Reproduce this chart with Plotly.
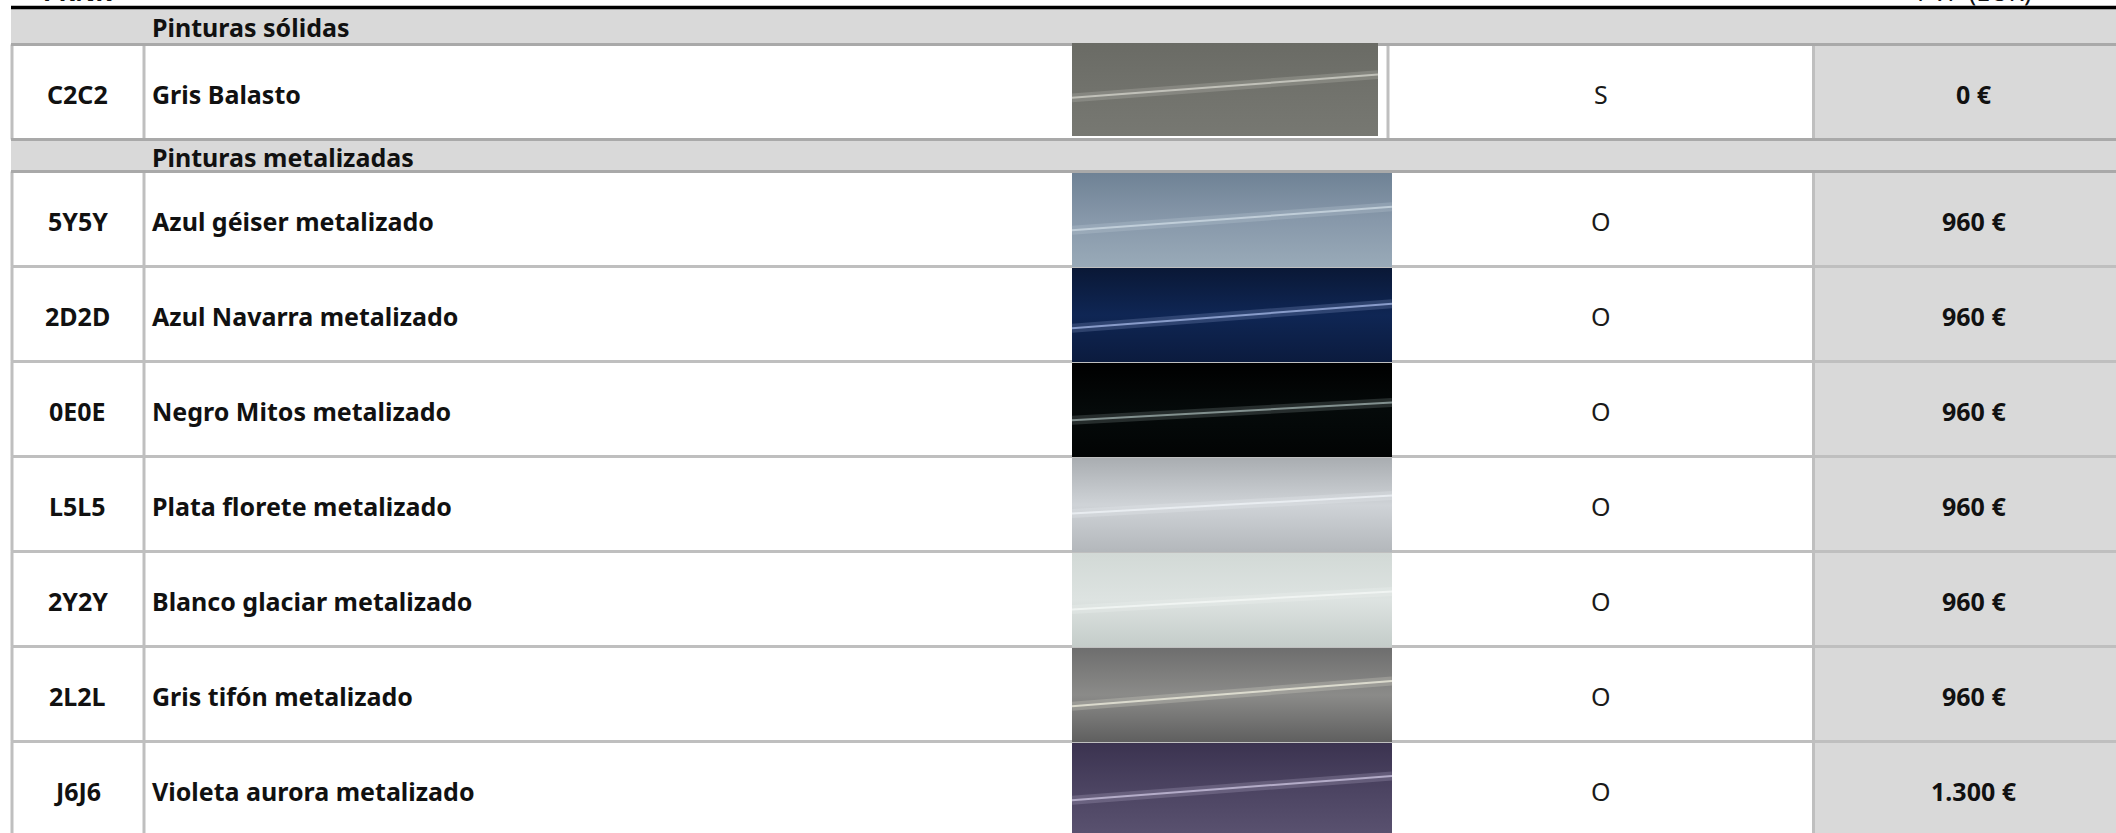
import plotly.graph_objects as go

# ---------------- data ----------------
sections = ["Pinturas sólidas", "Pinturas metalizadas"]
codes = ["C2C2", "5Y5Y", "2D2D", "0E0E", "L5L5", "2Y2Y", "2L2L", "J6J6"]
names = ["Gris Balasto", "Azul géiser metalizado", "Azul Navarra metalizado",
         "Negro Mitos metalizado", "Plata florete metalizado",
         "Blanco glaciar metalizado", "Gris tifón metalizado",
         "Violeta aurora metalizado"]
row_section = [0, 1, 1, 1, 1, 1, 1, 1]
availability = ["S", "O", "O", "O", "O", "O", "O", "O"]
prices_eur = [0, 960, 960, 960, 960, 960, 960, 1300]
header_left = "PRNR"
header_right = "PVP (EUR)"

# swatch colours (top, middle, bottom, highlight)
sw_top = ["#6a6b65", "#6f8295", "#0a1836", "#000000", "#a9adb1", "#d2d9d6", "#6e6e6e", "#3b3350"]
sw_mid = ["#71726c", "#8798aa", "#0f2654", "#050a0a", "#cfd3d7", "#dde3e1", "#8b8b89", "#4c4462"]
sw_bot = ["#777872", "#99aab8", "#0b1b3e", "#020404", "#b3b7bb", "#c4ccc9", "#5f5f5f", "#5a5270"]
sw_hi = ["#d0d0c8", "#cbd8e2", "#9fb2e0", "#9aaaa8", "#eef2f6", "#f4f8f6", "#ecebdc", "#c8c0dc"]
# highlight position (fraction of swatch height) at left / right edge
hi_left = [0.59, 0.61, 0.64, 0.61, 0.59, 0.60, 0.62, 0.61]
hi_right = [0.34, 0.36, 0.38, 0.42, 0.40, 0.41, 0.35, 0.35]

# ---------------- layout / style ----------------
W, H = 2116, 833
FONT = "Noto Sans"
FS = 25
X_LEFT, X_CODE, X_SW0, X_TYPE, X_PRICE, X_RIGHT = 11, 144, 1072, 1388, 1813.5, 2116
SW_RIGHT = [1378, 1392]           # per section
PRICE_CENTER = 1974
Y_TOP = 7.5
BAND_H = [37, 32]
ROW_H = 95
GRID = "#bfbfbf"
BAND_LINE = "#a9a9a9"
BAND_FILL = "#d9d9d9"

fig = go.Figure()
shapes = []
ann = []


def line(x0, y0, x1, y1, color, w):
    shapes.append(dict(type="line", x0=x0, y0=y0, x1=x1, y1=y1, xref="x", yref="y",
                       line=dict(color=color, width=w), layer="below"))


def rect(x0, y0, x1, y1, color):
    shapes.append(dict(type="rect", x0=x0, y0=y0, x1=x1, y1=y1, xref="x", yref="y",
                       fillcolor=color, line=dict(width=0), layer="below"))


def text(x, y, s, anchor="left", bold=True, color="#111111", yanchor="middle"):
    ann.append(dict(x=x, y=y, xref="x", yref="y", text=s, showarrow=False,
                    xanchor=anchor, yanchor=yanchor,
                    font=dict(family=FONT, size=FS, color=color,
                              weight=700 if bold else 400)))


def fmt_price(v):
    return f"{v:,}".replace(",", ".") + " €"


# compute row geometry
y = Y_TOP
band_pos = []
row_pos = []
for s in range(len(sections)):
    band_pos.append((y, y + BAND_H[s]))
    y += BAND_H[s]
    for i, sec in enumerate(row_section):
        if sec == s:
            row_pos.append((i, y, y + ROW_H))
            y += ROW_H
row_pos.sort()

# backgrounds
for s, (b0, b1) in enumerate(band_pos):
    rect(X_LEFT, b0, X_RIGHT, b1, BAND_FILL)
for i, r0, r1 in row_pos:
    rect(X_PRICE, r0, X_RIGHT, r1, BAND_FILL)

# grid lines
for i, r0, r1 in row_pos:
    for xv in (X_LEFT + 1, X_CODE, X_TYPE, X_PRICE):
        line(xv, r0, xv, r1, GRID, 3)
    line(X_LEFT, r1, X_RIGHT, r1, GRID, 3)
for s, (b0, b1) in enumerate(band_pos):
    line(X_LEFT, b1, X_RIGHT, b1, BAND_LINE, 3)
    if s > 0:
        line(X_LEFT, b0, X_RIGHT, b0, BAND_LINE, 3)
line(X_LEFT, Y_TOP, X_RIGHT, Y_TOP, "#000000", 3.5)

# header texts (mostly cut off at the top edge, as in the source)
text((X_LEFT + X_CODE) / 2, 10, header_left, anchor="center", yanchor="bottom")
text(PRICE_CENTER, 10, header_right, anchor="center", yanchor="bottom", bold=False)

# section titles
for s, (b0, b1) in enumerate(band_pos):
    text(X_CODE + 6, (b0 + b1) / 2 + 1, sections[s])

# rows
for i, r0, r1 in row_pos:
    cy = (r0 + r1) / 2 + 1.5
    text((X_LEFT + X_CODE) / 2, cy, codes[i], anchor="center")
    text(X_CODE + 6, cy, names[i])
    text((X_TYPE + X_PRICE) / 2, cy, availability[i], anchor="center", bold=False, color="#1a1a1a")
    text(PRICE_CENTER, cy, fmt_price(prices_eur[i]), anchor="center")

    # swatch
    sec = row_section[i]
    if sec == 0:
        t, b = r0 - 1.5, r1 - 3.5
    else:
        t, b = r0 + 1.5, r1 + 0.5
    xr = SW_RIGHT[sec]
    fig.add_trace(go.Scatter(
        x=[X_SW0, xr, xr, X_SW0, X_SW0], y=[t, t, b, b, t], mode="lines",
        line=dict(width=0), fill="toself", hoverinfo="skip", showlegend=False,
        fillgradient=dict(type="vertical", start=t, stop=b,
                          colorscale=[[0, sw_top[i]], [0.5, sw_mid[i]], [1, sw_bot[i]]])))
    yl = t + hi_left[i] * (b - t)
    yr = t + hi_right[i] * (b - t)
    fig.add_trace(go.Scatter(x=[X_SW0, xr], y=[yl, yr], mode="lines", opacity=0.22,
                             line=dict(color=sw_hi[i], width=9), hoverinfo="skip", showlegend=False))
    fig.add_trace(go.Scatter(x=[X_SW0, xr], y=[yl, yr], mode="lines", opacity=0.8,
                             line=dict(color=sw_hi[i], width=2), hoverinfo="skip", showlegend=False))

fig.update_layout(
    width=W, height=H, margin=dict(l=0, r=0, t=0, b=0),
    paper_bgcolor="white", plot_bgcolor="white",
    xaxis=dict(range=[0, W], visible=False, fixedrange=True),
    yaxis=dict(range=[H, 0], visible=False, fixedrange=True),
    shapes=shapes, annotations=ann, showlegend=False,
)
fig.write_html("out.html", config={"displayModeBar": False},
               post_script="document.body.style.margin='0';")
